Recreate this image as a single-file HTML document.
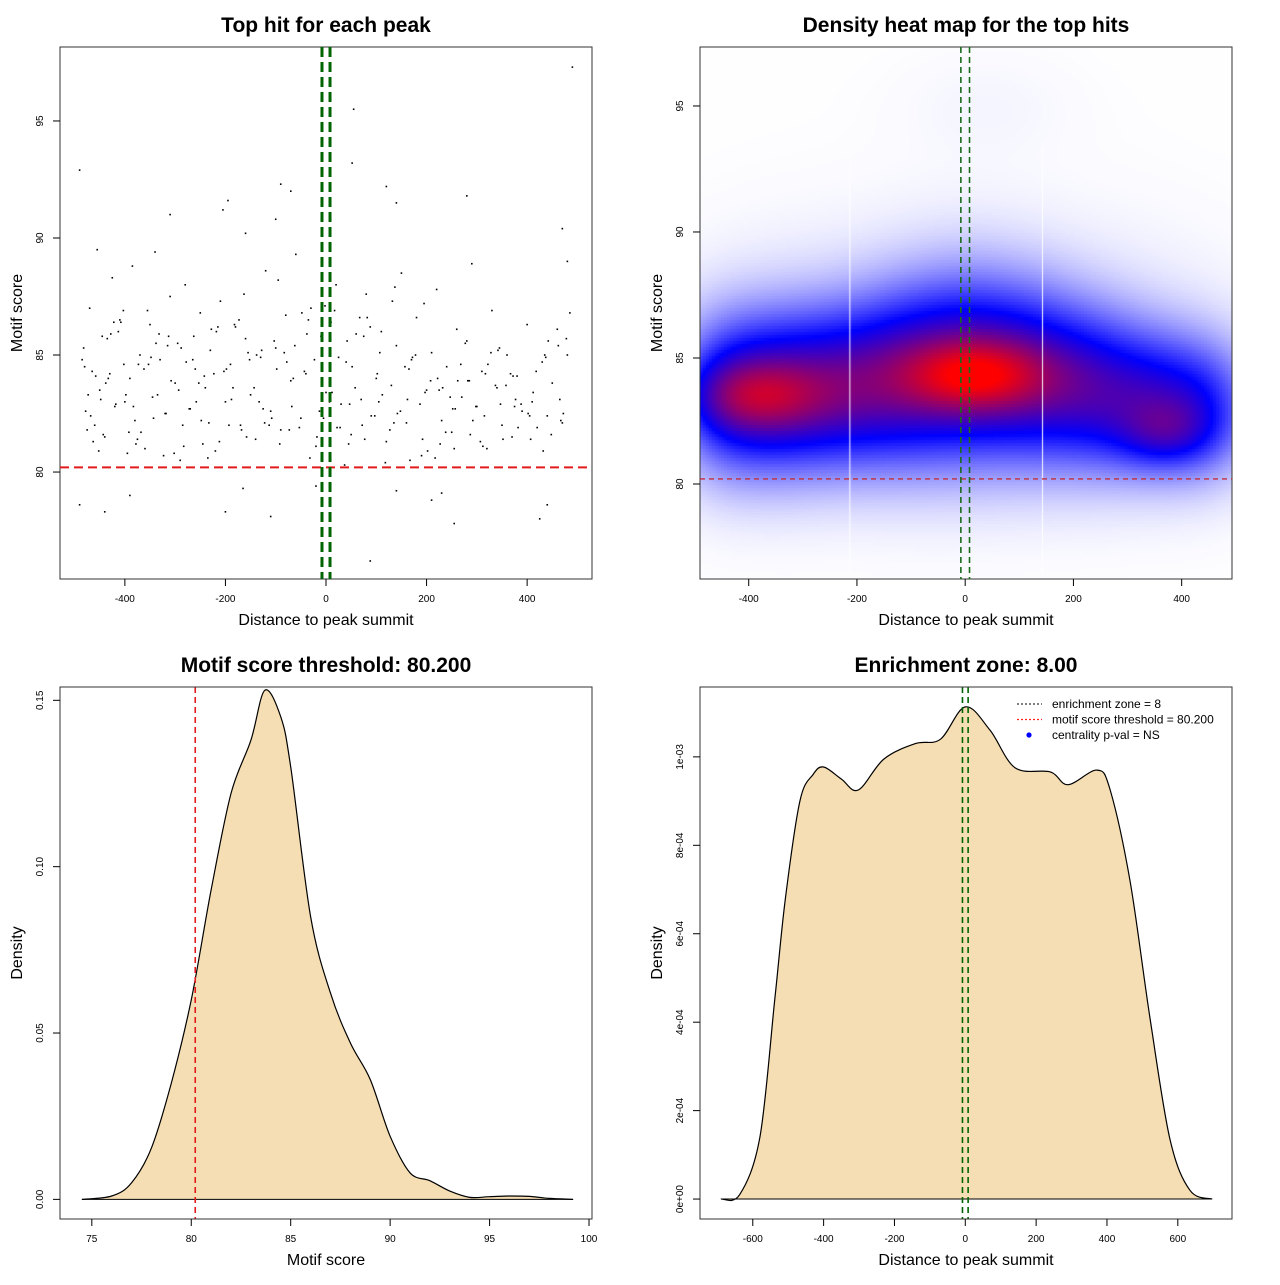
<!DOCTYPE html>
<html><head><meta charset="utf-8">
<style>
body{margin:0;background:#fff;}
svg text{font-family:"Liberation Sans",sans-serif;}
</style></head>
<body>
<svg id="root" width="1280" height="1280" xmlns="http://www.w3.org/2000/svg">
<rect width="1280" height="1280" fill="#fff"/>
<g id="p1"></g>
<g id="p2">
<foreignObject x="700" y="47" width="532" height="532"><canvas xmlns="http://www.w3.org/1999/xhtml" id="hm" width="532" height="532" style="display:block"></canvas></foreignObject>
</g>
<g id="p3"></g>
<g id="p4"></g>
</svg>
<script>
// ---- Panel 1 data: scatter (distance, motif score)
const scX=[-490,490,55,52,88,-205,-195,-310,-90,-70,120,140,280,-100,-160,470,480,-390,-440,-490,-200,-110,-20,255,230,210,425,440,140,-165,
-480,-470,-460,-455,-450,-445,-440,-430,-425,-420,-410,-400,-395,-390,-385,-380,-370,-360,-350,-345,-340,-330,-320,-310,-300,-295,-290,-280,-270,-260,-250,-245,-240,-230,-220,-210,-200,-190,-180,-170,-160,-150,-140,-130,-120,-110,-100,-90,-80,-70,-60,-50,-40,-30,-20,-10,0,10,20,30,40,50,60,70,80,90,100,110,120,130,140,150,160,170,180,190,200,210,220,230,240,250,260,270,280,290,300,310,320,330,340,350,360,370,380,390,400,410,420,430,440,450,460,470,480,
-475,-465,-448,-435,-418,-402,-375,-355,-335,-315,-285,-265,-235,-215,-185,-155,-125,-95,-65,-35,-5,25,45,75,105,135,165,195,225,255,285,315,345,375,405,435,465,485,
-478,-458,-428,-398,-368,-338,-308,-278,-248,-218,-188,-158,-128,-98,-68,-38,-8,22,52,82,112,142,172,202,232,262,292,322,352,382,412,442,472,
-485,-463,-433,-403,-373,-343,-313,-283,-253,-223,-193,-163,-133,-103,-73,-43,-13,17,47,77,107,137,167,197,227,257,287,317,347,377,407,437,467,
-482,-452,-422,-392,-362,-332,-302,-272,-242,-212,-182,-152,-122,-92,-62,-32,-2,28,58,88,118,148,178,208,238,268,298,328,358,388,418,448,478,
-468,-438,-408,-378,-348,-318,-288,-258,-228,-198,-168,-138,-108,-78,-48,-18,12,42,72,102,132,162,192,222,252,282,312,342,372,402,432,462,
-473,-443,-413,-383,-353,-323,-293,-263,-233,-203,-173,-143,-113,-83,-53,-23,7,37,67,97,127,157,187,217,247,277,307,337,367,397,427,457,487];
const scY=[92.9,97.3,95.5,93.2,76.2,91.2,91.6,91.0,92.3,92.0,92.2,91.5,91.8,90.8,90.2,90.4,89.0,79.0,78.3,78.6,78.3,78.1,79.4,77.8,79.1,78.8,78.0,78.6,79.2,79.3,
84.5,87.0,82.0,89.5,83.5,85.8,81.5,84.2,88.3,82.8,86.5,83.0,80.8,84.0,88.8,82.2,85.0,81.0,86.3,83.2,89.4,84.8,82.5,87.5,83.8,85.5,80.5,88.0,82.7,84.4,86.8,81.2,83.6,85.2,80.9,87.3,83.0,84.6,86.2,82.0,85.7,83.3,81.4,84.9,88.6,82.6,85.3,81.8,86.7,83.9,89.3,82.3,84.2,87.0,81.1,85.8,83.4,86.4,88.0,82.9,84.7,81.6,85.9,83.1,87.6,82.4,84.0,86.0,81.3,83.7,85.4,88.5,82.1,84.8,86.6,80.7,83.5,85.1,87.8,82.2,84.5,81.7,86.1,83.2,85.6,88.9,82.8,84.3,81.0,86.9,83.6,82.0,85.0,81.5,84.1,82.6,86.3,83.0,81.9,84.7,82.4,
83.8,86.1,82.1,85.0,81.8,84.3,83.1,85.7,82.9,84.6,81.4,86.9,83.3,85.4,82.0,84.8,80.6,86.2,83.6,85.1,82.7,88.2,84.0,86.5,82.3,84.9,81.2,85.8,83.0,82.1,84.4,87.2,83.5,81.0,83.9,82.4,85.3,82.8,
82.4,85.0,83.1,86.8,82.6,84.1,85.9,83.3,81.7,85.5,83.9,84.7,82.2,86.0,83.1,81.5,85.2,84.4,82.8,85.9,83.7,81.9,84.5,86.6,83.3,82.5,84.9,80.9,83.6,83.9,82.2,84.6,81.4,
81.9,83.4,85.6,82.5,84.8,81.3,84.0,86.9,84.6,82.3,85.8,81.1,83.8,84.2,82.0,87.6,83.0,85.6,81.8,84.3,82.6,86.9,82.9,81.4,85.1,87.9,80.5,83.4,81.2,82.7,81.6,84.2,82.9,
83.1,81.4,84.9,82.2,85.3,80.9,86.4,81.7,84.4,85.9,80.8,82.7,84.1,81.3,86.3,84.8,82.1,81.2,85.4,80.6,87.1,81.9,83.6,86.2,80.4,82.6,85.0,83.9,81.7,84.6,82.8,85.1,83.7,
82.9,84.3,81.6,85.7,82.4,83.8,86.4,81.2,84.9,82.5,85.3,83.0,86.1,84.4,81.8,85.0,82.3,84.7,86.8,81.5,83.4,85.6,82.0,84.2,87.3,83.1,81.4,84.0,82.7,83.9,81.1,85.2,
84.1,82.5,80.9,85.4,83.3,81.6,86.0,82.8,84.6,80.7,83.5,85.8,82.1,84.3,86.5,83.6,82.0,85.1,81.9,84.8,83.0,80.3,86.6,82.4,81.8,84.5,82.9,80.6,83.2,85.5,81.3,83.7,84.2];

// ---- Panel 2 data: density components (distance, score, sdDist, sdScore, weight)
const hmCX=[-440,-330,-220,-110,0,110,220,330,440,-390,20,370,-300,0,300,40];
const hmCY=[83.5,83.6,83.8,84.2,84.5,84.3,83.8,83.3,83.0,83.5,84.3,82.0,85,85.5,85,95];
const hmSX=[70,70,70,70,70,70,70,70,70,90,90,60,170,170,170,120];
const hmSY=[2.2,2.2,2.2,2.4,2.5,2.4,2.2,2.0,1.9,1.0,1.0,0.9,3.5,3.5,3.5,1.5];
const hmW=[0.5,0.5,0.5,0.52,0.53,0.5,0.46,0.42,0.42,0.3,0.4,0.22,0.05,0.05,0.05,0.02];

// ---- Panel 3 data: density of motif score
const msX=[74.5,76,77,78,79,80,81,82,83,83.7,84.5,85,86,87,88,89,90,91,92,93,94,95,96,97,98,99.2];
const msD=[0,0.001,0.005,0.0155,0.035,0.06,0.093,0.122,0.138,0.153,0.145,0.13,0.085,0.062,0.047,0.036,0.019,0.008,0.0056,0.0025,0.0006,0.0008,0.001,0.0009,0.0003,0];

// ---- Panel 4 data: density of distance
const ddX=[-690,-637,-580,-538,-508,-467,-430,-400,-350,-302,-230,-141,-70,0,70,141,240,290,372,409,465,522,578,634,697];
const ddD=[0,0.00001,0.00014,0.00045,0.00068,0.0009,0.00096,0.000977,0.00095,0.000925,0.000995,0.00103,0.00104,0.001113,0.00106,0.000975,0.000966,0.000937,0.00097,0.000925,0.00072,0.000406,0.000135,0.00002,0];

const NS="http://www.w3.org/2000/svg";
function mk(parent,tag,attrs,text){const e=document.createElementNS(NS,tag);for(const k in attrs)e.setAttribute(k,attrs[k]);if(text!==undefined)e.textContent=text;parent.appendChild(e);return e;}
function lin(d0,d1,r0,r1){return v=>r0+(v-d0)*(r1-r0)/(d1-d0);}
function smooth(P){let d='M'+P[0][0].toFixed(1)+','+P[0][1].toFixed(1);
  for(let i=0;i<P.length-1;i++){const p0=P[Math.max(i-1,0)],p1=P[i],p2=P[i+1],p3=P[Math.min(i+2,P.length-1)];
    const c1=[p1[0]+(p2[0]-p0[0])/6,p1[1]+(p2[1]-p0[1])/6],c2=[p2[0]-(p3[0]-p1[0])/6,p2[1]-(p3[1]-p1[1])/6];
    d+=` C${c1[0].toFixed(1)},${c1[1].toFixed(1)} ${c2[0].toFixed(1)},${c2[1].toFixed(1)} ${p2[0].toFixed(1)},${p2[1].toFixed(1)}`;}
  return d;}

function frame(g,x0,y0,title,xlab,ylab,xs,ys,xt,yt,xtl,ytl){
  const t=mk(g,'text',{x:x0+266,y:32,'text-anchor':'middle','font-size':21,'font-weight':'bold'},title);
  
  const xl=mk(g,'text',{x:x0+266,y:y0+578,'text-anchor':'middle','font-size':16},xlab);
  
  const yl=mk(g,'text',{x:0,y:0,'text-anchor':'middle','font-size':16,transform:`translate(${x0-38},${y0+266}) rotate(-90)`},ylab);
  
  xt.forEach((v,i)=>{const px=xs(v);
    mk(g,'line',{x1:px,x2:px,y1:y0+532,y2:y0+539,stroke:'#000'});
    const e=mk(g,'text',{x:px,y:y0+555,'text-anchor':'middle','font-size':10},xtl[i]);
    });
  yt.forEach((v,i)=>{const py=ys(v);
    mk(g,'line',{x1:x0-7,x2:x0,y1:py,y2:py,stroke:'#000'});
    const e=mk(g,'text',{x:0,y:0,'text-anchor':'middle','font-size':10,transform:`translate(${x0-17},${py}) rotate(-90)`},ytl[i]);
    });
}
function box(g,x0,y0){const b=mk(g,'rect',{x:x0,y:y0,width:532,height:532,fill:'none',stroke:'#333','stroke-width':1});}

// Panel 1
(function(){
  const g=document.getElementById('p1');
  const xs=lin(-529,529,60,592), ys=lin(75.43,98.16,579,47);
  box(g,60,47);
  frame(g,60,47,'Top hit for each peak','Distance to peak summit','Motif score',xs,ys,[-400,-200,0,200,400],[80,85,90,95],['-400','-200','0','200','400'],['80','85','90','95']);
  const n=Math.min(scX.length,scY.length);
  for(let i=0;i<n;i++){
    const c=mk(g,'rect',{x:xs(scX[i])-0.8,y:ys(scY[i])-0.8,width:1.6,height:1.6,fill:'#000'});
    
    
  }
  const r=mk(g,'line',{x1:60,x2:592,y1:ys(80.2),y2:ys(80.2),stroke:'#e31a1c','stroke-width':2,'stroke-dasharray':'9,5'});
  
  [-8,8].forEach(v=>{const l=mk(g,'line',{x1:xs(v),x2:xs(v),y1:47,y2:579,stroke:'#006400','stroke-width':3,'stroke-dasharray':'10,5'});
    });
})();

// Panel 2
(function(){
  const g=document.getElementById('p2');
  const xs=lin(-490,493,700,1232), ys=lin(76.23,97.34,579,47);
  const cv=document.getElementById('hm'),ctx=cv.getContext('2d');
  const cell=3;const vals=[];let mx=0;
  for(let py=0;py<532;py+=cell){for(let px=0;px<532;px+=cell){
    const x=-490+(px+cell/2)/532*983, y=97.34-(py+cell/2)/532*21.11;
    let d=0;for(let k=0;k<hmCX.length;k++){const dx=(x-hmCX[k])/hmSX[k],dy=(y-hmCY[k])/hmSY[k];d+=hmW[k]*Math.exp(-0.5*(dx*dx+dy*dy));}
    vals.push([px,py,d]);if(d>mx)mx=d;}}
  const th=0.44;
  vals.forEach(([px,py,d])=>{const t=d/mx;let r,gg,b;
    if(t<th){const u=t/th;r=255*(1-u);gg=255*(1-u);b=255;}else{const u=Math.min(1,(t-th)/(1-th)*1.08);r=255*u;gg=0;b=255*(1-u);}
    ctx.fillStyle=`rgb(${r|0},${gg|0},${b|0})`;ctx.fillRect(px,py,cell,cell);});
  ctx.fillStyle='#fff';[-214,142].forEach(v=>ctx.fillRect(xs(v)-700,100,1,425));
  box(g,700,47);
  frame(g,700,47,'Density heat map for the top hits','Distance to peak summit','Motif score',xs,ys,[-400,-200,0,200,400],[80,85,90,95],['-400','-200','0','200','400'],['80','85','90','95']);
  const r=mk(g,'line',{x1:700,x2:1232,y1:ys(80.2),y2:ys(80.2),stroke:'#c0303a','stroke-width':1.3,'stroke-dasharray':'5,4'});
  
  [-8,8].forEach(v=>{const l=mk(g,'line',{x1:xs(v),x2:xs(v),y1:47,y2:579,stroke:'#1a6b1a','stroke-width':1.6,'stroke-dasharray':'6,4'});
    });
})();

// Panel 3
(function(){
  const g=document.getElementById('p3');
  const xs=lin(73.4,100.15,60,592), ys=lin(-0.0059,0.154,1219,687);
  const P=msX.map((v,i)=>[xs(v),ys(msD[i])]);
  const ln=smooth(P);
  const a=mk(g,'path',{d:ln+' Z',fill:'#f5deb3',stroke:'none'});
  const c=mk(g,'path',{d:ln,fill:'none',stroke:'#000','stroke-width':1.2,'stroke-linejoin':'round'});
  mk(g,'line',{x1:xs(74.5),x2:xs(99.2),y1:ys(0),y2:ys(0),stroke:'#000'});
  const r=mk(g,'line',{x1:xs(80.2),x2:xs(80.2),y1:687,y2:1219,stroke:'#e31a1c','stroke-width':1.6,'stroke-dasharray':'6,4'});
  
  box(g,60,687);
  const f=mk(g,'g',{transform:'translate(0,640)'});
  frame(f,60,47,'Motif score threshold: 80.200','Motif score','Density',v=>xs(v),v=>ys(v)-640,[75,80,85,90,95,100],[0,0.05,0.1,0.15],['75','80','85','90','95','100'],['0.00','0.05','0.10','0.15']);
})();

// Panel 4
(function(){
  const g=document.getElementById('p4');
  const xs=lin(-749,753,700,1232), ys=lin(-0.0000451,0.001158,1219,687);
  const P=ddX.map((v,i)=>[xs(v),ys(ddD[i])]);
  const ln=smooth(P);
  const a=mk(g,'path',{d:ln+' Z',fill:'#f5deb3',stroke:'none'});
  const c=mk(g,'path',{d:ln,fill:'none',stroke:'#000','stroke-width':1.2,'stroke-linejoin':'round'});
  mk(g,'line',{x1:xs(-690),x2:xs(697),y1:ys(0),y2:ys(0),stroke:'#000'});
  [-8,8].forEach(v=>{const l=mk(g,'line',{x1:xs(v),x2:xs(v),y1:687,y2:1219,stroke:'#006400','stroke-width':1.6,'stroke-dasharray':'6,4'});
    });
  box(g,700,687);
  const f=mk(g,'g',{transform:'translate(0,640)'});
  frame(f,700,47,'Enrichment zone: 8.00','Distance to peak summit','Density',v=>xs(v),v=>ys(v)-640,[-600,-400,-200,0,200,400,600],[0,0.0002,0.0004,0.0006,0.0008,0.001],['-600','-400','-200','0','200','400','600'],['0e+00','2e-04','4e-04','6e-04','8e-04','1e-03']);
  const lg=mk(g,'g',{});
  const items=[['enrichment zone = 8','#333','line'],['motif score threshold = 80.200','#ff2020','line'],['centrality p-val = NS','#0000ff','dot']];
  items.forEach((it,i)=>{const y=704+i*15.5;
    if(it[2]==='line')mk(lg,'line',{x1:1017,x2:1042,y1:y,y2:y,stroke:it[1],'stroke-width':1.2,'stroke-dasharray':'2,2'});
    else mk(lg,'circle',{cx:1029,cy:y,r:2.6,fill:it[1]});
    const t=mk(lg,'text',{x:1052,y:y+4,'font-size':12},it[0]);});
})();
</script>
</body></html>
